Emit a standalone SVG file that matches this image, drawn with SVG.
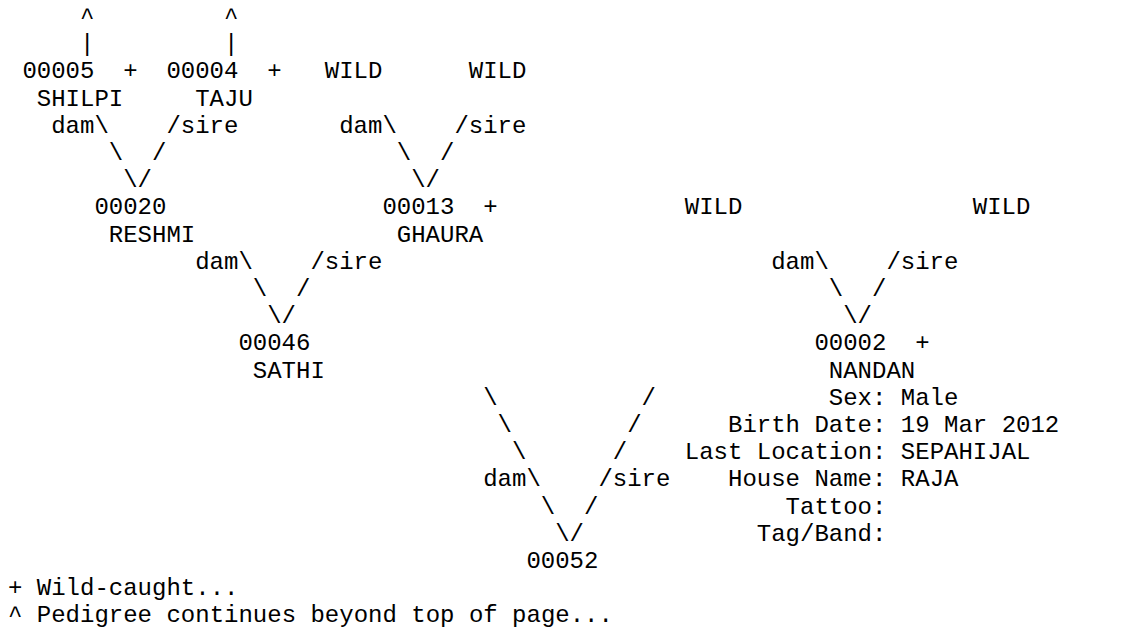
<svg xmlns="http://www.w3.org/2000/svg" width="1134" height="630" viewBox="0 0 1134 630">
<style>
text{font-family:"Liberation Mono","Courier New",monospace;font-size:24px;fill:#000;white-space:pre}
</style>
<rect width="1134" height="630" fill="#fff"/>
<g id="connectors">
<text x="80" y="24">^</text><text x="224" y="24">^</text>
<text x="80" y="51.2">|</text><text x="224" y="51.2">|</text>
<text x="51.2" y="132.8">dam\</text><text x="166.4" y="132.8">/sire</text>
<text x="339.2" y="132.8">dam\</text><text x="454.4" y="132.8">/sire</text>
<text x="108.8" y="160">\</text><text x="152" y="160">/</text>
<text x="396.8" y="160">\</text><text x="440" y="160">/</text>
<text x="123.2" y="187.2">\/</text><text x="411.2" y="187.2">\/</text>
<text x="195.2" y="268.8">dam\</text><text x="310.4" y="268.8">/sire</text>
<text x="771.2" y="268.8">dam\</text><text x="886.4" y="268.8">/sire</text>
<text x="252.8" y="296">\</text><text x="296" y="296">/</text>
<text x="828.8" y="296">\</text><text x="872" y="296">/</text>
<text x="267.2" y="323.2">\/</text><text x="843.2" y="323.2">\/</text>
<text x="483.2" y="404.8">\</text><text x="641.6" y="404.8">/</text>
<text x="497.6" y="432">\</text><text x="627.2" y="432">/</text>
<text x="512" y="459.2">\</text><text x="612.8" y="459.2">/</text>
<text x="483.2" y="486.4">dam\</text><text x="598.4" y="486.4">/sire</text>
<text x="540.8" y="513.6">\</text><text x="584" y="513.6">/</text>
<text x="555.2" y="540.8">\/</text>
</g>
<g id="n00005"><text x="22.4" y="78.4">00005</text><text x="123.2" y="78.4">+</text><text x="36.8" y="105.6">SHILPI</text></g>
<g id="n00004"><text x="166.4" y="78.4">00004</text><text x="267.2" y="78.4">+</text><text x="195.2" y="105.6">TAJU</text></g>
<g id="wild1"><text x="324.8" y="78.4">WILD</text></g>
<g id="wild2"><text x="468.8" y="78.4">WILD</text></g>
<g id="n00020"><text x="94.4" y="214.4">00020</text><text x="108.8" y="241.6">RESHMI</text></g>
<g id="n00013"><text x="382.4" y="214.4">00013</text><text x="483.2" y="214.4">+</text><text x="396.8" y="241.6">GHAURA</text></g>
<g id="wild3"><text x="684.8" y="214.4">WILD</text></g>
<g id="wild4"><text x="972.8" y="214.4">WILD</text></g>
<g id="n00046"><text x="238.4" y="350.4">00046</text><text x="252.8" y="377.6">SATHI</text></g>
<g id="n00002"><text x="814.4" y="350.4">00002</text><text x="915.2" y="350.4">+</text><text x="828.8" y="377.6">NANDAN</text>
<text x="828.8" y="404.8">Sex: Male</text>
<text x="728" y="432">Birth Date: 19 Mar 2012</text>
<text x="684.8" y="459.2">Last Location: SEPAHIJAL</text>
<text x="728" y="486.4">House Name: RAJA</text>
<text x="785.6" y="513.6">Tattoo:</text>
<text x="756.8" y="540.8">Tag/Band:</text></g>
<g id="n00052"><text x="526.4" y="568">00052</text></g>
<g id="legend"><text x="8" y="595.2">+ Wild-caught...</text><text x="8" y="622.4">^ Pedigree continues beyond top of page...</text></g>
</svg>
